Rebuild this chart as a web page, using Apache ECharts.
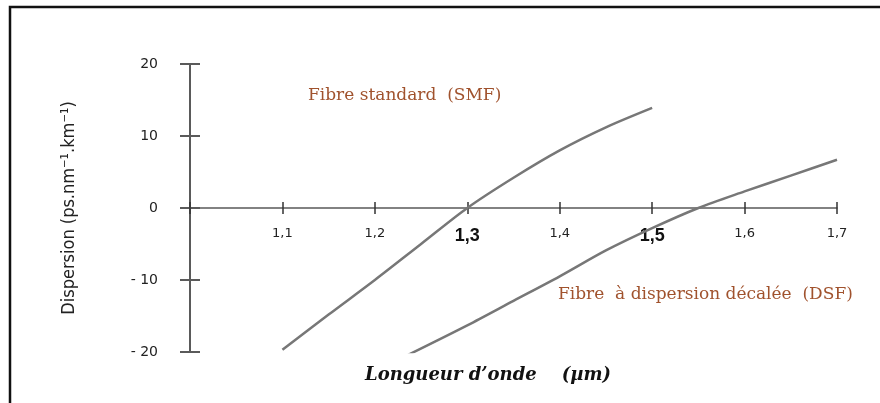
<!DOCTYPE html>
<html>
<head>
<meta charset="utf-8">
<script src="https://cdn.jsdelivr.net/npm/echarts@6/dist/echarts.min.js"></script>
<style>
  html, body { margin: 0; padding: 0; background: #fff; }
  #chart { width: 880px; height: 403px; }
</style>
</head>
<body>
<div id="chart"></div>
<script>
// courbes (longueur d'onde en µm, dispersion en ps/nm/km)
const smfWavelength = [1.1, 1.15, 1.2, 1.25, 1.3, 1.35, 1.4, 1.45, 1.5];
const smfDispersion = [-19.7, -14.8, -10, -5, 0, 4.2, 8, 11.2, 13.9];
const dsfWavelength = [1.236, 1.3, 1.35, 1.4, 1.45, 1.5, 1.55, 1.6, 1.65, 1.7];
const dsfDispersion = [-20.4, -16.3, -12.9, -9.5, -5.9, -2.8, 0, 2.3, 4.5, 6.7];

const xTickValues = [1.1, 1.2, 1.3, 1.4, 1.5, 1.6, 1.7];
const xTickLabels = ['1,1', '1,2', '1,3', '1,4', '1,5', '1,6', '1,7'];
const xBoldLabels = ['1,3', '1,5'];
const yTickValues = [-20, -10, 0, 10, 20];
const yTickLabels = ['- 20', '- 10', '0', '10', '20'];

const axisColor = '#5a5a5a';
const curveColor = '#777777';
const noteColor = '#a0522d';

const chart = echarts.init(document.getElementById('chart'));

const xLabel = (v) => {
  const i = xTickValues.findIndex(t => Math.abs(t - v) < 1e-6);
  if (i < 0) return '';
  const txt = xTickLabels[i];
  return xBoldLabels.includes(txt) ? '{b|' + txt + '}' : txt;
};
const yLabel = (v) => {
  const i = yTickValues.indexOf(Math.round(v));
  return i < 0 ? '' : yTickLabels[i];
};

const option = {
  backgroundColor: '#fff',
  animation: false,
  grid: { left: 190, right: 43, top: 64, bottom: 51, containLabel: false },
  xAxis: [{
    type: 'value',
    position: 'bottom',
    min: 1.0,
    max: 1.7,
    interval: 0.1,
    axisLine: { show: true, onZero: true, lineStyle: { color: axisColor, width: 1.5 } },
    axisTick: { show: true, length: 6, lineStyle: { color: '#333', width: 1.5 } },
    axisLabel: {
      // les étiquettes restent en bas de la grille, on les remonte sous l'axe du zéro
      margin: -125,
      color: '#222',
      fontFamily: 'DejaVu Sans',
      fontSize: 13,
      formatter: xLabel,
      rich: { b: { fontFamily: 'Liberation Sans', fontSize: 18, fontWeight: 'bold', color: '#111' } }
    },
    splitLine: { show: false }
  }, {
    type: 'value',
    position: 'bottom',
    min: 1.0,
    max: 1.7,
    interval: 0.1,
    axisLine: { show: false, onZero: true },
    axisTick: { show: true, inside: true, length: 6, lineStyle: { color: '#333', width: 1.5 } },
    axisLabel: { show: false },
    splitLine: { show: false }
  }],
  yAxis: [{
    type: 'value',
    position: 'left',
    min: -20,
    max: 20,
    interval: 10,
    name: 'Dispersion (ps.nm⁻¹.km⁻¹)',
    nameLocation: 'middle',
    nameGap: 112,
    nameTextStyle: { color: '#222', fontFamily: 'Liberation Sans Narrow, DejaVu Sans Condensed, sans-serif', fontSize: 18 },
    axisLine: { show: true, lineStyle: { color: axisColor, width: 2 } },
    axisTick: { show: true, length: 10, lineStyle: { color: axisColor, width: 2 } },
    axisLabel: { margin: 32, color: '#222', fontFamily: 'DejaVu Sans', fontSize: 14, formatter: yLabel },
    splitLine: { show: false }
  }, {
    type: 'value',
    position: 'left',
    min: -20,
    max: 20,
    interval: 10,
    axisLine: { show: false },
    axisTick: { show: true, inside: true, length: 10, lineStyle: { color: axisColor, width: 2 } },
    axisLabel: { show: false },
    splitLine: { show: false }
  }],
  series: [{
    name: 'SMF',
    type: 'line',
    data: smfWavelength.map((x, i) => [x, smfDispersion[i]]),
    smooth: 0.3,
    symbol: 'none',
    lineStyle: { color: curveColor, width: 2.5 }
  }, {
    name: 'DSF',
    type: 'line',
    data: dsfWavelength.map((x, i) => [x, dsfDispersion[i]]),
    smooth: 0.3,
    symbol: 'none',
    lineStyle: { color: curveColor, width: 2.5 }
  }],
  graphic: [{
    type: 'rect',
    shape: { x: 10, y: 7, width: 880, height: 410 },
    style: { fill: 'none', stroke: '#111', lineWidth: 2.5 }
  }, {
    type: 'text',
    left: 308,
    top: 87,
    style: { text: 'Fibre standard  (SMF)', fill: noteColor, font: '17px "DejaVu Serif", serif' }
  }, {
    type: 'text',
    left: 558,
    top: 286,
    style: { text: 'Fibre  à dispersion décalée  (DSF)', fill: noteColor, font: '17px "DejaVu Serif", serif' }
  }, {
    type: 'text',
    left: 365,
    top: 366,
    style: { text: 'Longueur d’onde    (µm)', fill: '#111', font: 'italic bold 18px "DejaVu Serif", serif' }
  }]
};

chart.setOption(option);
window.addEventListener('resize', () => chart.resize());
</script>
</body>
</html>
